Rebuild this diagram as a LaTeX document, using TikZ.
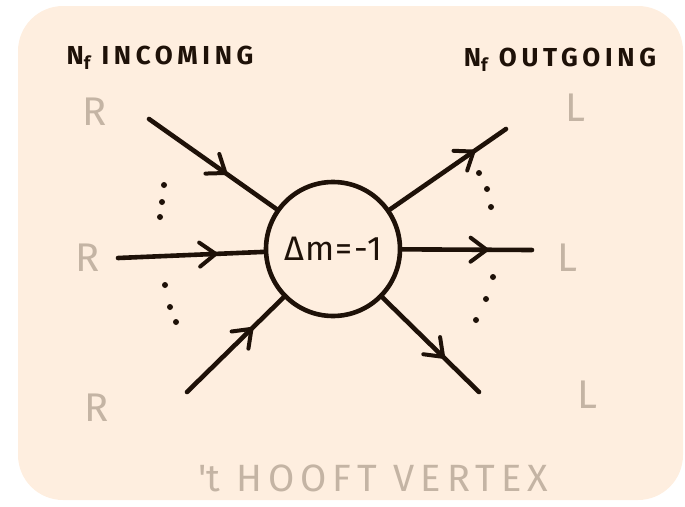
\documentclass[tikz,border=0pt]{standalone}
\usepackage{fontspec}
\setmainfont{Fira Sans}
\usetikzlibrary{arrows.meta,decorations.markings}

\definecolor{ink}{HTML}{1E1108}
\definecolor{paper}{HTML}{FEEEDF}
\definecolor{chirgray}{HTML}{C4B4A4}

\begin{document}
\begin{tikzpicture}[x=1pt, y=-1pt,
  leg/.style={draw=ink, line width=4.6pt, line cap=round},
  midarr/.style={postaction={decorate}, decoration={markings,
    mark=at position #1 with {\draw[ink, line width=4pt, line cap=round, line join=round]
      (-16pt,12pt) -- (0pt,0pt) -- (-16pt,-12pt);}}},
  vertex/.style={draw=ink, line width=4.6pt, circle, minimum size=134pt, inner sep=0pt, text=ink, font=\fontsize{34}{34}\selectfont\addfontfeatures{LetterSpace=4}},
  chir/.style={text=chirgray, font=\fontsize{40}{40}\selectfont},
  head/.style={text=ink, font=\fontsize{26}{26}\selectfont\bfseries\addfontfeatures{LetterSpace=18}},
  title/.style={text=chirgray, font=\fontsize{38}{38}\selectfont\addfontfeatures{LetterSpace=16}}
]
\useasboundingbox (0,0) rectangle (685,506);
\fill[paper, rounded corners=45pt] (18,6) rectangle (683,500);

\node[vertex] (vtx) at (333,249) {Δm=-1};

% free ends of the legs
\coordinate (in1) at (149,119);
\coordinate (in2) at (118,258);
\coordinate (in3) at (187,392);
\coordinate (out1) at (506,129);
\coordinate (out2) at (532,250);
\coordinate (out3) at (479,392);

\draw[leg, midarr=0.6] (in1) -- (vtx);
\draw[leg, midarr=0.67] (in2) -- (vtx);
\draw[leg, midarr=0.67] (in3) -- (vtx);
\draw[leg, midarr=0.72] (vtx) -- (out1);
\draw[leg, midarr=0.65] (vtx) -- (out2);
\draw[leg, midarr=0.63] (vtx) -- (out3);

% dots between the legs
\foreach \p in {(164,185),(162,202),(160,217),(165,285),(170,307),(176,322),
                (479,173),(487,189),(491,207),(493,277),(486,299),(476,320)}
  \fill[ink] \p circle (3pt);

\node[chir] (r1) at (95,112) {R};
\node[chir] (r2) at (88,258) {R};
\node[chir] (r3) at (97,408) {R};
\node[chir] (l1) at (575,108) {L};
\node[chir] (l2) at (567,258) {L};
\node[chir] (l3) at (587,395) {L};

\node[head] (hin) at (160,58) {N\textsubscript{f} INCOMING};
\node[head] (hout) at (560,60) {N\textsubscript{f} OUTGOING};

\node[title] (name) at (373,478) {\textquotesingle t HOOFT VERTEX};
\end{tikzpicture}
\end{document}
